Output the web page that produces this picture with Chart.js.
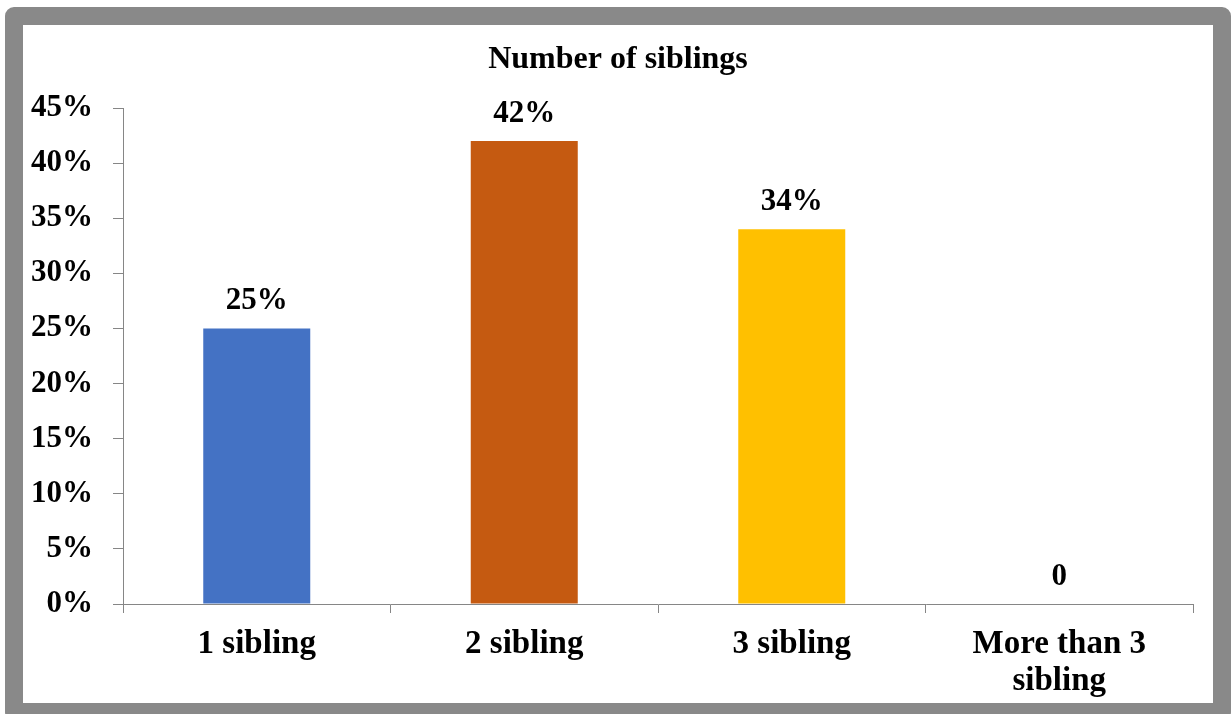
<!DOCTYPE html>
<html>
<head>
<meta charset="utf-8">
<script src="https://cdn.jsdelivr.net/npm/chart.js@4"></script>
<style>
  html, body { margin: 0; padding: 0; background: #fff; }
  body { width: 1231px; height: 714px; overflow: hidden; position: relative; }
  #frame {
    position: absolute; left: 5px; top: 7px;
    width: 1190px; height: 678px;
    border: 18px solid #898989;
    border-radius: 9px;
    background: #fff;
  }
  #chart { display: block; }
</style>
</head>
<body>
<div id="frame"><canvas id="chart" width="1190" height="678"></canvas></div>
<script>
// categories and shares (fraction of respondents)
var categories = ['1 sibling', '2 sibling', '3 sibling', ['More than 3', 'sibling']];
var shares = [0.25, 0.42, 0.34, 0];
var barColors = ['#4472C4', '#C55A11', '#FFC000', '#A5A5A5'];
var yTicksMax = 0.45;
var yStep = 0.05;

var serif = 'Liberation Serif, Times New Roman, serif';
var axisGray = '#868686';

function pct(v) {
    return v === 0 ? '0' : Math.round(v * 100) + '%';
}

// labels on top of each bar
var barValueLabels = {
    id: 'barValueLabels',
    afterDatasetsDraw: function(chart) {
        var ctx = chart.ctx;
        var meta = chart.getDatasetMeta(0);
        ctx.save();
        ctx.font = 'bold 31px ' + serif;
        ctx.fillStyle = '#000';
        ctx.textAlign = 'center';
        ctx.textBaseline = 'middle';
        meta.data.forEach(function(bar, i) {
            ctx.fillText(pct(shares[i]), bar.x, bar.y - 27);
        });
        ctx.restore();
    }
};

var ctx = document.getElementById('chart').getContext('2d');
var siblingsChart = new Chart(ctx, {
    type: 'bar',
    data: {
        labels: categories,
        datasets: [{
            data: shares,
            backgroundColor: barColors,
            borderWidth: 0,
            categoryPercentage: 1,
            barPercentage: 0.4
        }]
    },
    options: {
        responsive: false,
        animation: false,
        devicePixelRatio: 1,
        layout: { padding: 0 },
        plugins: {
            legend: { display: false },
            tooltip: { enabled: false },
            title: {
                display: true,
                text: 'Number of siblings',
                color: '#000',
                font: { family: serif, size: 32, weight: 'bold', lineHeight: 1.2 },
                padding: { top: 16, bottom: 28.6 }
            }
        },
        scales: {
            x: {
                offset: true,
                grid: {
                    offset: true,
                    drawOnChartArea: false,
                    tickLength: 9,
                    color: axisGray
                },
                border: { color: axisGray, width: 1 },
                ticks: {
                    color: '#000',
                    padding: 13,
                    maxRotation: 0,
                    font: { family: serif, size: 33, weight: 'bold', lineHeight: 1.12 }
                },
                afterFit: function(scale) { scale.height = 99; }
            },
            y: {
                min: 0,
                max: yTicksMax,
                grid: {
                    drawOnChartArea: false,
                    tickLength: 10,
                    color: axisGray
                },
                border: { color: axisGray, width: 1 },
                ticks: {
                    stepSize: yStep,
                    color: '#000',
                    padding: 20,
                    font: { family: serif, size: 31, weight: 'bold' },
                    callback: function(v) { return Math.round(v * 100) + '%'; }
                },
                afterFit: function(scale) { scale.width = 100; }
            },
            // empty strip on the right, keeps the plot off the frame edge
            spacer: {
                type: 'linear',
                position: 'right',
                min: 0,
                max: 1,
                grid: { display: false },
                border: { display: false },
                ticks: { display: false },
                afterFit: function(scale) { scale.width = 20; }
            }
        }
    },
    plugins: [barValueLabels]
});
</script>
</body>
</html>
